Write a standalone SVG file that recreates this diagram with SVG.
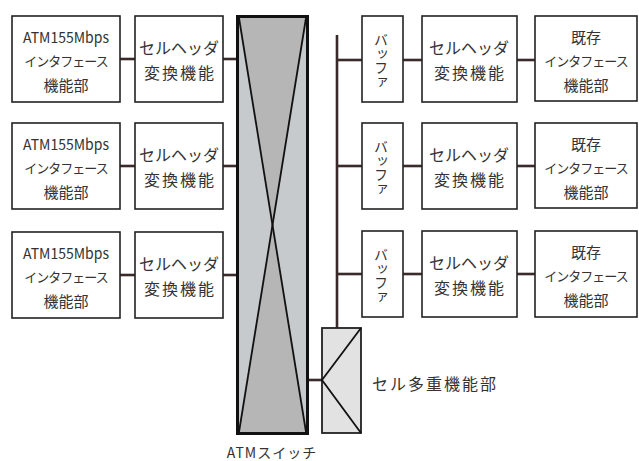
<svg xmlns="http://www.w3.org/2000/svg" width="639" height="461" viewBox="0 0 639 461">
<style>
.box{fill:#fff;stroke:#222;stroke-width:1.6}
.t{font-family:"Noto Sans CJK JP","Noto Sans",sans-serif;font-size:15px;fill:#333;text-anchor:middle;dominant-baseline:central}
.h{font-size:16px}
.s{font-size:13px;letter-spacing:-1px}
.v{font-family:"Noto Sans CJK JP",sans-serif;font-size:14px;fill:#333;writing-mode:vertical-rl;text-anchor:start}
.c{stroke:#3a2a2a;stroke-width:2.6;fill:none}
.ln{stroke:#111;stroke-width:1.8;fill:none}
</style>
<rect width="639" height="461" fill="#fff"/>
<g id="connectors">
<line class="c" x1="120" y1="59" x2="135" y2="59"/>
<line class="c" x1="223" y1="59" x2="237" y2="59"/>
<line class="c" x1="120" y1="166" x2="135" y2="166"/>
<line class="c" x1="223" y1="166" x2="237" y2="166"/>
<line class="c" x1="120" y1="275" x2="135" y2="275"/>
<line class="c" x1="223" y1="275" x2="237" y2="275"/>
<line class="c" x1="337" y1="35" x2="337" y2="328"/>
<line class="c" x1="337" y1="60" x2="362" y2="60"/>
<line class="c" x1="403" y1="60" x2="422" y2="60"/>
<line class="c" x1="517" y1="60" x2="535" y2="60"/>
<line class="c" x1="337" y1="166" x2="362" y2="166"/>
<line class="c" x1="403" y1="166" x2="422" y2="166"/>
<line class="c" x1="517" y1="166" x2="535" y2="166"/>
<line class="c" x1="337" y1="274" x2="362" y2="274"/>
<line class="c" x1="403" y1="274" x2="422" y2="274"/>
<line class="c" x1="517" y1="274" x2="535" y2="274"/>
<line class="c" x1="308" y1="380" x2="322" y2="380"/>
</g>
<g id="atm1"><rect class="box" x="12" y="16" width="108" height="86"/>
<text class="t" x="66" y="36" textLength="86" lengthAdjust="spacingAndGlyphs">ATM155Mbps</text><text class="t s" x="66" y="60">インタフェース</text><text class="t" x="66" y="84">機能部</text></g>
<g id="atm2"><rect class="box" x="12" y="123" width="108" height="86"/>
<text class="t" x="66" y="143" textLength="86" lengthAdjust="spacingAndGlyphs">ATM155Mbps</text><text class="t s" x="66" y="167">インタフェース</text><text class="t" x="66" y="191">機能部</text></g>
<g id="atm3"><rect class="box" x="12" y="232" width="108" height="86"/>
<text class="t" x="66" y="252" textLength="86" lengthAdjust="spacingAndGlyphs">ATM155Mbps</text><text class="t s" x="66" y="276">インタフェース</text><text class="t" x="66" y="300">機能部</text></g>
<g id="hdrL1"><rect class="box" x="135" y="16" width="88" height="86"/>
<text class="t h" x="179" y="47">セルヘッダ</text><text class="t h" x="179" y="72" textLength="70">変換機能</text></g>
<g id="hdrL2"><rect class="box" x="135" y="123" width="88" height="86"/>
<text class="t h" x="179" y="154">セルヘッダ</text><text class="t h" x="179" y="179" textLength="70">変換機能</text></g>
<g id="hdrL3"><rect class="box" x="135" y="232" width="88" height="86"/>
<text class="t h" x="179" y="263">セルヘッダ</text><text class="t h" x="179" y="288" textLength="70">変換機能</text></g>
<g id="switch">
<rect x="237.5" y="16.5" width="70" height="417" fill="#b6b6b6" stroke="#111" stroke-width="3"/>
<polygon points="239,18 273,226 239,432" fill="#c6cacc"/>
<polygon points="306,18 273,226 306,432" fill="#c6cacc"/>
<line class="ln" x1="239" y1="18" x2="306" y2="432"/>
<line class="ln" x1="306" y1="18" x2="239" y2="432"/>
<rect x="237.5" y="16.5" width="70" height="417" fill="none" stroke="#111" stroke-width="3"/>
<text class="t" x="272" y="452" style="font-size:14px;letter-spacing:1px">ATMスイッチ</text>
</g>
<g id="mux">
<rect x="322" y="328" width="39" height="105" fill="#e2e2e2" stroke="#222" stroke-width="1.8"/>
<polyline class="ln" points="361,328 322,380 361,433"/>
<text class="t h" x="372" y="383" style="letter-spacing:2px;text-anchor:start">セル多重機能部</text>
</g>
<g id="buf1"><rect class="box" x="362" y="16" width="41" height="86"/>
<text class="v" x="381" y="33">バッファ</text></g>
<g id="buf2"><rect class="box" x="362" y="123" width="41" height="86"/>
<text class="v" x="381" y="140">バッファ</text></g>
<g id="buf3"><rect class="box" x="362" y="231" width="41" height="86"/>
<text class="v" x="381" y="248">バッファ</text></g>
<g id="hdrR1"><rect class="box" x="422" y="16" width="95" height="86"/>
<text class="t h" x="469" y="47">セルヘッダ</text><text class="t h" x="469" y="72" textLength="70">変換機能</text></g>
<g id="hdrR2"><rect class="box" x="422" y="123" width="95" height="86"/>
<text class="t h" x="469" y="154">セルヘッダ</text><text class="t h" x="469" y="179" textLength="70">変換機能</text></g>
<g id="hdrR3"><rect class="box" x="422" y="231" width="95" height="86"/>
<text class="t h" x="469" y="262">セルヘッダ</text><text class="t h" x="469" y="287" textLength="70">変換機能</text></g>
<g id="exist1"><rect class="box" x="535" y="16" width="102" height="85"/>
<text class="t" x="586" y="36">既存</text><text class="t s" x="586" y="60">インタフェース</text><text class="t" x="586" y="84">機能部</text></g>
<g id="exist2"><rect class="box" x="535" y="123" width="102" height="85"/>
<text class="t" x="586" y="143">既存</text><text class="t s" x="586" y="167">インタフェース</text><text class="t" x="586" y="191">機能部</text></g>
<g id="exist3"><rect class="box" x="535" y="231" width="102" height="86"/>
<text class="t" x="586" y="251">既存</text><text class="t s" x="586" y="275">インタフェース</text><text class="t" x="586" y="299">機能部</text></g>
</svg>
